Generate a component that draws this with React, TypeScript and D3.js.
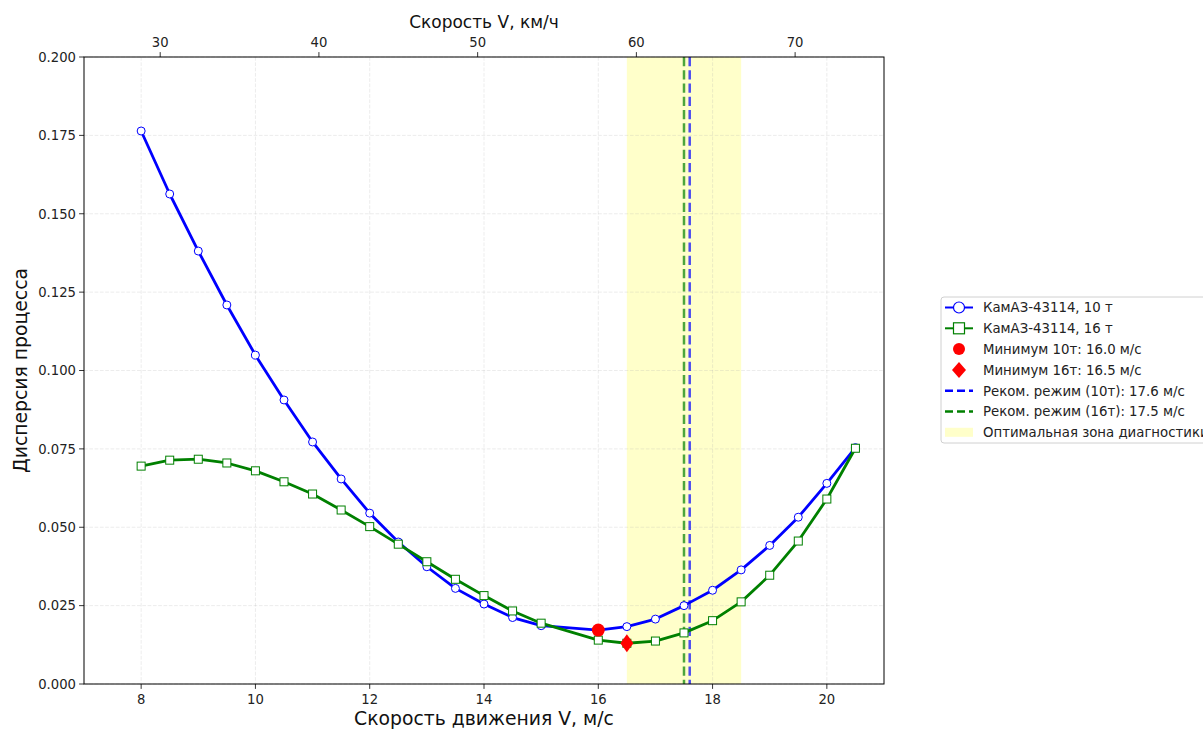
import React from 'react';
import * as d3 from 'd3';

// скорость, м/с
const speeds = [8, 8.5, 9, 9.5, 10, 10.5, 11, 11.5, 12, 12.5, 13, 13.5, 14, 14.5, 15, 16, 16.5, 17, 17.5, 18, 18.5, 19, 19.5, 20, 20.5];
// дисперсия, 10 т
const disp10 = [0.1764, 0.1563, 0.1381, 0.1209, 0.1049, 0.0906, 0.0772, 0.0654, 0.0545, 0.0453, 0.0374, 0.0305, 0.0255, 0.0212, 0.0186, 0.0172, 0.0183, 0.0207, 0.0250, 0.0299, 0.0364, 0.0442, 0.0532, 0.0640, 0.0754];
// дисперсия, 16 т
const disp16 = [0.0695, 0.0714, 0.0717, 0.0705, 0.0680, 0.0645, 0.0606, 0.0555, 0.0502, 0.0446, 0.0390, 0.0334, 0.0282, 0.0233, 0.0194, 0.0140, 0.0130, 0.0137, 0.0163, 0.0202, 0.0262, 0.0347, 0.0456, 0.0590, 0.0752];

const xTicks = [8, 10, 12, 14, 16, 18, 20];
const yTicks = [0, 0.025, 0.05, 0.075, 0.1, 0.125, 0.15, 0.175, 0.2];
const kmhTicks = [30, 40, 50, 60, 70];

const min10 = {v: 16.0, d: 0.0172};
const min16 = {v: 16.5, d: 0.0130};
const rec10 = 17.6;
const rec16 = 17.5;
const zone = [16.5, 18.5];

const legendLabels = [
    'КамАЗ-43114, 10 т',
    'КамАЗ-43114, 16 т',
    'Минимум 10т: 16.0 м/с',
    'Минимум 16т: 16.5 м/с',
    'Реком. режим (10т): 17.6 м/с',
    'Реком. режим (16т): 17.5 м/с',
    'Оптимальная зона диагностики',
];

const FONT = '"DejaVu Sans", sans-serif';

export default function App() {
    const left = 84, right = 884, top = 57, bottom = 684;
    const x = d3.scaleLinear().domain([7, 21]).range([left, right]);
    const y = d3.scaleLinear().domain([0, 0.2]).range([bottom, top]);

    const pts10 = speeds.map((s, i) => [s, disp10[i]] as [number, number]);
    const pts16 = speeds.map((s, i) => [s, disp16[i]] as [number, number]);
    const line = d3.line<[number, number]>().x(d => x(d[0])).y(d => y(d[1]));

    const diamond = (cx: number, cy: number, w: number, h: number) =>
        `M${cx},${cy - h} L${cx + w},${cy} L${cx},${cy + h} L${cx - w},${cy} Z`;

    const legX = 941, legY = 297, rowH = 20.8;

    return (
        <svg width={1203} height={729} style={{position: 'absolute', left: 0, top: 0, background: '#fff'}}
             fontFamily={FONT}>
            <rect x={0} y={0} width={1203} height={729} fill="#fff"/>

            {/* оптимальная зона */}
            <rect x={x(zone[0])} y={top} width={x(zone[1]) - x(zone[0])} height={bottom - top}
                  fill="#ffff66" fillOpacity={0.35}/>

            {/* сетка */}
            {xTicks.map(t => (
                <line key={'gx' + t} x1={x(t)} x2={x(t)} y1={top} y2={bottom}
                      stroke="#b0b0b0" strokeOpacity={0.3} strokeDasharray="3.7,1.6" strokeWidth={0.8}/>
            ))}
            {yTicks.map(t => (
                <line key={'gy' + t} x1={left} x2={right} y1={y(t)} y2={y(t)}
                      stroke="#b0b0b0" strokeOpacity={0.3} strokeDasharray="3.7,1.6" strokeWidth={0.8}/>
            ))}

            {/* рекомендованные режимы */}
            <line x1={x(rec16)} x2={x(rec16)} y1={top} y2={bottom} stroke="#008000" strokeOpacity={0.7}
                  strokeWidth={2.5} strokeDasharray="9.25,4"/>
            <line x1={x(rec10)} x2={x(rec10)} y1={top} y2={bottom} stroke="#0000ff" strokeOpacity={0.7}
                  strokeWidth={2.5} strokeDasharray="9.25,4"/>

            {/* кривые */}
            <path d={line(pts10) || ''} fill="none" stroke="#0000ff" strokeWidth={2.8} strokeLinejoin="round"/>
            {pts10.map((p, i) => (
                <circle key={'m10' + i} cx={x(p[0])} cy={y(p[1])} r={4} fill="#fff" stroke="#0000ff" strokeWidth={1}/>
            ))}
            <path d={line(pts16) || ''} fill="none" stroke="#008000" strokeWidth={2.8} strokeLinejoin="round"/>
            {pts16.map((p, i) => (
                <rect key={'m16' + i} x={x(p[0]) - 4} y={y(p[1]) - 4} width={8} height={8}
                      fill="#fff" stroke="#008000" strokeWidth={1}/>
            ))}

            {/* минимумы */}
            <circle cx={x(min10.v)} cy={y(min10.d)} r={6.5} fill="#ff0000"/>
            <path d={diamond(x(min16.v), y(min16.d), 6.5, 9)} fill="#ff0000"/>

            {/* рамка */}
            <rect x={left} y={top} width={right - left} height={bottom - top} fill="none" stroke="#000" strokeWidth={1}/>

            {/* нижняя ось */}
            {xTicks.map(t => (
                <g key={'xt' + t}>
                    <line x1={x(t)} x2={x(t)} y1={bottom} y2={bottom + 4.9} stroke="#000" strokeWidth={0.8}/>
                    <text x={x(t)} y={bottom + 19.5} fontSize={13.2} textAnchor="middle" fill="#222">{t}</text>
                </g>
            ))}
            {/* левая ось */}
            {yTicks.map(t => (
                <g key={'yt' + t}>
                    <line x1={left - 4.9} x2={left} y1={y(t)} y2={y(t)} stroke="#000" strokeWidth={0.8}/>
                    <text x={left - 8} y={y(t) + 4.8} fontSize={13.2} textAnchor="end" fill="#222">{d3.format('.3f')(t)}</text>
                </g>
            ))}
            {/* верхняя ось, км/ч */}
            {kmhTicks.map(t => (
                <g key={'kt' + t}>
                    <line x1={x(t / 3.6)} x2={x(t / 3.6)} y1={top} y2={top - 4.9} stroke="#000" strokeWidth={0.8}/>
                    <text x={x(t / 3.6)} y={top - 10} fontSize={13.2} textAnchor="middle" fill="#222">{t}</text>
                </g>
            ))}

            <text x={(left + right) / 2} y={28} fontSize={17} textAnchor="middle" fill="#111">Скорость V, км/ч</text>
            <text x={(left + right) / 2} y={725} fontSize={18.8} textAnchor="middle" fill="#111">Скорость движения V, м/с</text>
            <text transform={`translate(27,${(top + bottom) / 2}) rotate(-90)`} fontSize={18.8} textAnchor="middle"
                  fill="#111">Дисперсия процесса</text>

            {/* легенда */}
            <g>
                <rect x={legX} y={legY} width={300} height={146} rx={3} fill="#fff" fillOpacity={0.8}
                      stroke="#d0d0d0" strokeWidth={1}/>
                {legendLabels.map((lab, i) => {
                    const cy = legY + 10.5 + i * rowH;
                    const hx = legX + 18;
                    let handle: React.ReactNode = null;
                    if (i === 0) handle = <g>
                        <line x1={hx - 14} x2={hx + 14} y1={cy} y2={cy} stroke="#0000ff" strokeWidth={2}/>
                        <circle cx={hx} cy={cy} r={5.5} fill="#fff" stroke="#0000ff" strokeWidth={1.2}/>
                    </g>;
                    else if (i === 1) handle = <g>
                        <line x1={hx - 14} x2={hx + 14} y1={cy} y2={cy} stroke="#008000" strokeWidth={2}/>
                        <rect x={hx - 5.5} y={cy - 5.5} width={11} height={11} fill="#fff" stroke="#008000" strokeWidth={1.2}/>
                    </g>;
                    else if (i === 2) handle = <circle cx={hx} cy={cy} r={6} fill="#ff0000"/>;
                    else if (i === 3) handle = <path d={diamond(hx, cy, 7, 8)} fill="#ff0000"/>;
                    else if (i === 4) handle = <line x1={hx - 14} x2={hx + 14} y1={cy} y2={cy} stroke="#0000ff"
                                                     strokeWidth={2.5} strokeDasharray="8,4"/>;
                    else if (i === 5) handle = <line x1={hx - 14} x2={hx + 14} y1={cy} y2={cy} stroke="#008000"
                                                     strokeWidth={2.5} strokeDasharray="8,4"/>;
                    else handle = <rect x={hx - 14} y={cy - 4.5} width={28} height={9} fill="#ffff66" fillOpacity={0.35}/>;
                    return (
                        <g key={'lg' + i}>
                            {handle}
                            <text x={legX + 42} y={cy + 4.8} fontSize={13.3} fill="#222">{lab}</text>
                        </g>
                    );
                })}
            </g>
        </svg>
    );
}
